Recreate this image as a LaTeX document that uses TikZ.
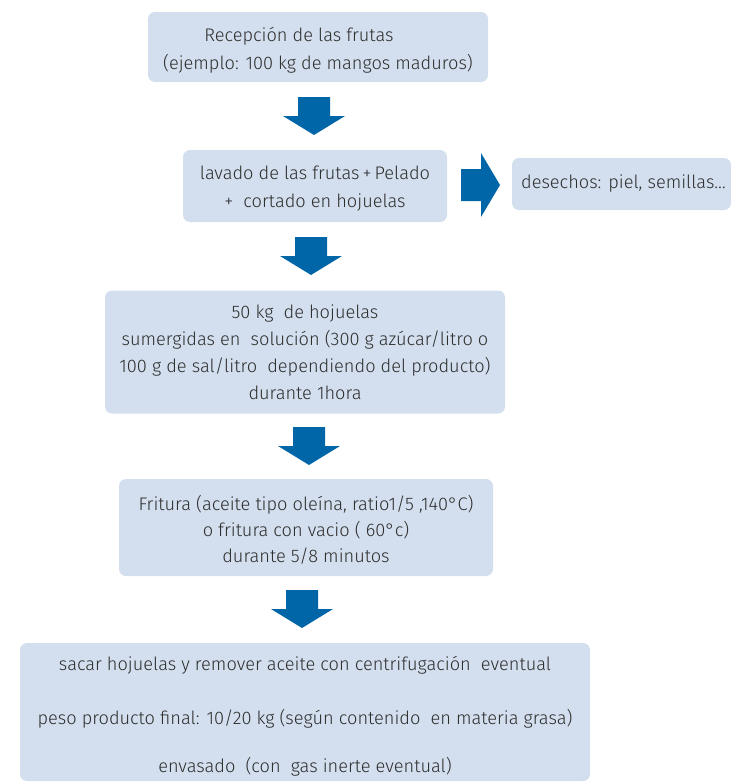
\documentclass[tikz,border=0pt]{standalone}
\usepackage{fontspec}
\setmainfont{Fira Sans}[UprightFont={* Light}]
\definecolor{boxfill}{HTML}{D3DFEE}
\definecolor{arrowblue}{HTML}{0066A8}
\definecolor{txt}{HTML}{2E2E2E}
\tikzset{
  stepbox/.style={fill=boxfill, draw=none, rounded corners=7pt, inner sep=0pt, align=center,
    text=txt, font=\fontsize{18.2}{27}\selectfont},
  darrow/.pic={\fill[arrowblue] (-16,0) -- (16,0) -- (16,19) -- (31,19) -- (0,38) -- (-31,19) -- (-16,19) -- cycle;},
  rarrow/.pic={\fill[arrowblue] (0,-16) -- (20,-16) -- (20,-32) -- (39,0) -- (20,32) -- (20,16) -- (0,16) -- cycle;}
}
\begin{document}
\begin{tikzpicture}[x=1pt,y=-1pt]
\useasboundingbox (0,0) rectangle (731,782);
\node[stepbox, minimum width=340pt, minimum height=70pt] (b1) at (318,47) {};
\node[align=center, text=txt, font=\fontsize{18.2}{28}\selectfont, inner sep=0pt] (t1) at (318,50)
  {Recepción de las frutas\hspace*{38pt}\\(ejemplo: 100 kg de mangos maduros)};
\node[stepbox, minimum width=264pt, minimum height=72pt] (b2) at (315,186) {};
\node[align=center, text=txt, font=\fontsize{18.2}{28}\selectfont, inner sep=0pt] (t2) at (315,189)
  {lavado de las frutas\,+\,Pelado\\+\ \ cortado en hojuelas};
\node[stepbox, minimum width=219pt, minimum height=52pt] (b2r) at (621.5,184)
  {\hspace*{4pt}desechos: piel, semillas\dots};
\node[stepbox, minimum width=400pt, minimum height=123pt] (b3) at (305,352)
  {50 kg\ \ de hojuelas\\sumergidas en\ \ solución (300 g azúcar/litro o\\100 g de sal/litro\ \ dependiendo del producto)\\durante 1hora};
\node[stepbox, minimum width=374pt, minimum height=97pt] (b4) at (306,527.5) {};
\node[align=center, text=txt, font=\fontsize{18.2}{26}\selectfont, inner sep=0pt] (t4) at (306,530)
  {Fritura (aceite tipo oleína, ratio1/5 ,140°C)\\o fritura con vacio ( 60°c)\\durante 5/8 minutos};
\node[stepbox, minimum width=570pt, minimum height=138pt] (b5) at (305,712) {};
\node[align=center, text=txt, font=\fontsize{18.2}{27}\selectfont, inner sep=0pt] (t5) at (305,716)
  {sacar hojuelas y remover aceite con centrifugación\ \ eventual\\[27pt]peso producto final: 10/20 kg (según contenido\ \ en materia grasa)\\[21pt]envasado\ \ (con\ \ gas inerte eventual)};
\pic at (314,97) {darrow};
\pic at (311,237) {darrow};
\pic at (309,427) {darrow};
\pic at (302,590) {darrow};
\pic at (461,185) {rarrow};
\end{tikzpicture}
\end{document}
